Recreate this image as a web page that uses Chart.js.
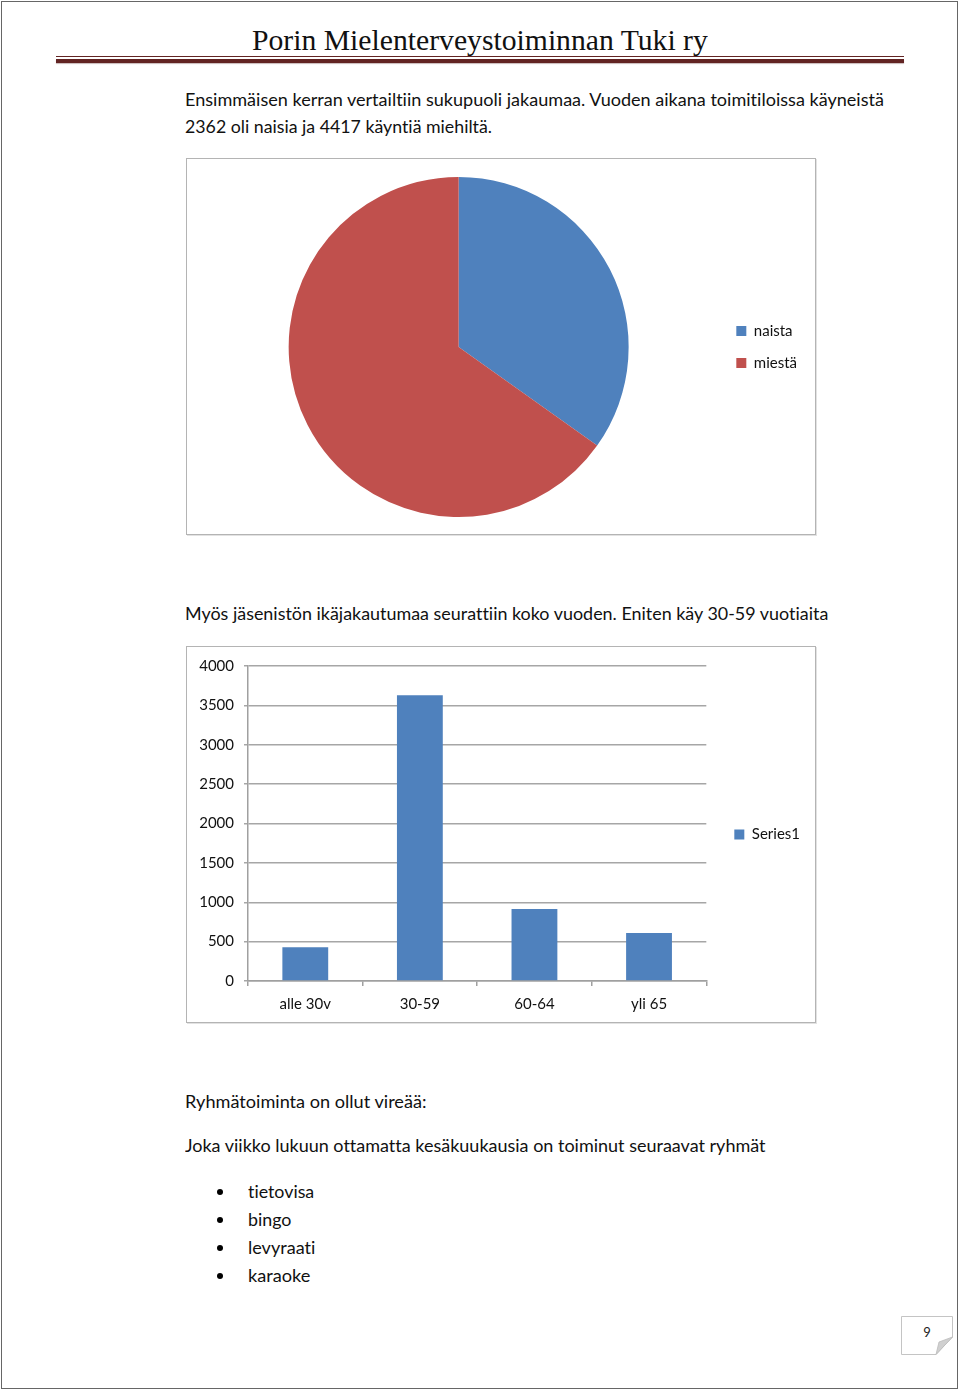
<!DOCTYPE html>
<html>
<head>
<meta charset="utf-8">
<script src="https://cdn.jsdelivr.net/npm/chart.js@4/dist/chart.umd.min.js"></script>
<style>
  html, body { margin: 0; padding: 0; background: #fff; }
  body { width: 960px; height: 1393px; position: relative; overflow: hidden; font-family: Lato, sans-serif; color: #111; font-variant-ligatures: none; }
  .page { position: absolute; left: 1px; top: 1px; width: 955px; height: 1386px; border: 1.5px solid #666; }
  .t { position: absolute; white-space: nowrap; line-height: 20px; height: 20px; transform-origin: 0 50%; font-size: 17px; }
  .title { font-family: "Liberation Serif", serif; font-size: 30px; line-height: 36px; height: 36px; color: #111; }
  .rule1 { position: absolute; left: 56px; width: 848px; top: 56px; height: 1px; background: #622423; }
  .rule2 { position: absolute; left: 56px; width: 848px; top: 59px; height: 4px; background: #622423; box-shadow: 0 1px 1px #c8b8b8; }
  .box { position: absolute; border: 1.5px solid #b4b4b4; box-shadow: 1px 1px 0 #e2e2e2; }
  .dot { position: absolute; width: 6px; height: 6px; border-radius: 3px; background: #000; }
</style>
</head>
<body>
<div class="page"></div>

<div class="t title" data-x="252" data-y="40" data-w="456">Porin Mielenterveystoiminnan Tuki ry</div>
<div class="rule1"></div>
<div class="rule2"></div>

<div class="t" data-x="185" data-y="100" data-w="699">Ensimmäisen kerran vertailtiin sukupuoli jakaumaa. Vuoden aikana toimitiloissa käyneistä</div>
<div class="t" data-x="185" data-y="127" data-w="307">2362 oli naisia ja 4417 käyntiä miehiltä.</div>

<div class="box" style="left:186px;top:158px;width:628px;height:375px;">
  <canvas id="pie" width="628" height="375"></canvas>
</div>

<div class="t" data-x="185" data-y="614" data-w="643">Myös jäsenistön ikäjakautumaa seurattiin koko vuoden. Eniten käy 30-59 vuotiaita</div>

<div class="box" style="left:186px;top:646px;width:628px;height:375px;">
  <canvas id="bars" width="628" height="375"></canvas>
</div>

<div class="t" data-x="185" data-y="1102" data-w="242">Ryhmätoiminta on ollut vireää:</div>
<div class="t" data-x="185" data-y="1146" data-w="580">Joka viikko lukuun ottamatta kesäkuukausia on toiminut seuraavat ryhmät</div>

<div class="dot" style="left:217px;top:1189px;"></div>
<div class="dot" style="left:217px;top:1217px;"></div>
<div class="dot" style="left:217px;top:1245px;"></div>
<div class="dot" style="left:217px;top:1273px;"></div>
<div class="t" data-x="248" data-y="1192" data-w="66">tietovisa</div>
<div class="t" data-x="248" data-y="1220" data-w="43">bingo</div>
<div class="t" data-x="248" data-y="1248" data-w="67">levyraati</div>
<div class="t" data-x="248" data-y="1276" data-w="62">karaoke</div>

<svg style="position:absolute;left:900px;top:1315px;" width="56" height="42">
  <path d="M1.5 1.5 H52.5 V22 L36 39.5 H1.5 Z" fill="#fff" stroke="#c4c4c4" stroke-width="1"/>
  <path d="M52.5 22 L36 39.5 L39 27 Z" fill="#d0d0d0" stroke="#bbb" stroke-width="0.8"/>
  <text x="27" y="22" font-family="Lato, sans-serif" font-size="13" text-anchor="middle" fill="#222">9</text>
</svg>

<script>
// sukupuolijakauma
const genderLabels = ['naista', 'miestä'];
const genderValues = [2362, 4417];
const genderColors = ['#4f81bd', '#c0504d'];

// ikäjakauma
const ageLabels = ['alle 30v', '30-59', '60-64', 'yli 65'];
const ageValues = [430, 3630, 915, 610];
const ageTicks = [0, 500, 1000, 1500, 2000, 2500, 3000, 3500, 4000];

// teksti mitoitus
document.querySelectorAll('.t').forEach(el => {
  const x = +el.dataset.x, y = +el.dataset.y, w = +el.dataset.w;
  const h = el.offsetHeight;
  el.style.left = x + 'px';
  el.style.top = (y - h / 2) + 'px';
  const real = el.scrollWidth;
  el.style.transform = 'scaleX(' + (w / real) + ')';
});

Chart.defaults.font.family = 'Lato, sans-serif';
Chart.defaults.color = '#111';
Chart.defaults.animation = false;

const pie = new Chart(document.getElementById('pie').getContext('2d'), {
  type: 'pie',
  data: {
    labels: genderLabels,
    datasets: [{
      data: genderValues,
      backgroundColor: genderColors,
      borderWidth: 0
    }]
  },
  options: {
    responsive: false,
    devicePixelRatio: 1,
    layout: { padding: { left: 11, right: 8, top: 18, bottom: 17 } },
    plugins: {
      tooltip: { enabled: false },
      legend: {
        position: 'right',
        align: 'center',
        labels: { boxWidth: 10, boxHeight: 10, padding: 17, font: { size: 15 }, color: '#111' }
      }
    }
  }
});

const bars = new Chart(document.getElementById('bars').getContext('2d'), {
  type: 'bar',
  data: {
    labels: ageLabels,
    datasets: [{
      label: 'Series1',
      data: ageValues,
      backgroundColor: '#4f81bd',
      borderWidth: 0,
      barPercentage: 0.4,
      categoryPercentage: 1
    }]
  },
  options: {
    responsive: false,
    devicePixelRatio: 1,
    layout: { padding: { left: 0, right: 5, top: 0, bottom: 0 } },
    scales: {
      x: {
        afterFit: s => { s.height = 41; },
        grid: { drawOnChartArea: false, drawTicks: true, tickLength: 5, color: '#a0a0a0', lineWidth: 1.5 },
        border: { color: '#a0a0a0', width: 1.5 },
        ticks: { padding: 9, font: { size: 15 }, color: '#111' }
      },
      y: {
        min: 0,
        max: 4000,
        afterFit: s => { s.width = 61; s.paddingTop = 19; },
        afterBuildTicks: s => { s.ticks = ageTicks.map(v => ({ value: v })); },
        grid: { color: '#a6a6a6', lineWidth: 1.5, tickLength: 4 },
        border: { color: '#a0a0a0', width: 1.5 },
        ticks: { padding: 10, font: { size: 15 }, color: '#111', callback: v => String(v) }
      }
    },
    plugins: {
      tooltip: { enabled: false },
      legend: {
        position: 'right',
        align: 'center',
        labels: { boxWidth: 10, boxHeight: 10, padding: 28, font: { size: 15 }, color: '#111' }
      }
    }
  }
});
</script>
</body>
</html>
